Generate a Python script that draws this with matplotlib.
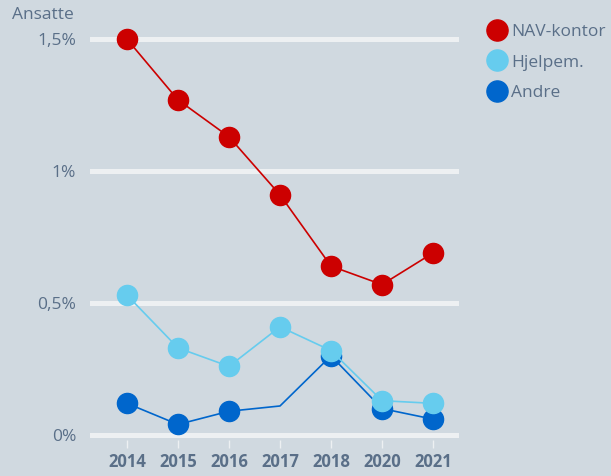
import matplotlib
matplotlib.use("Agg")
import matplotlib.pyplot as plt

# data
years = ["2014", "2015", "2016", "2017", "2018", "2020", "2021"]
nav_kontor = [1.50, 1.27, 1.13, 0.91, 0.64, 0.57, 0.69]
hjelpem = [0.53, 0.33, 0.26, 0.41, 0.32, 0.13, 0.12]
andre = [0.12, 0.04, 0.09, 0.11, 0.30, 0.10, 0.06]
andre_marker_idx = [0, 1, 2, 4, 5, 6]  # no dot for 2017

yticks = [0, 0.5, 1.0, 1.5]
ytick_labels = ["0%", "0,5%", "1%", "1,5%"]

bg = "#d0d9e0"
txt = "#5a6f88"
plt.rcParams["font.family"] = ["Open Sans", "DejaVu Sans"]

fig = plt.figure(figsize=(6.11, 4.76), dpi=100, facecolor=bg)
ax = fig.add_axes([0.1473, 0.0756, 0.604, 0.882])
ax.set_facecolor(bg)

x = list(range(len(years)))
l3, = ax.plot(x, andre, color="#0066cc", lw=1.2, marker="o", ms=14.5,
              markevery=andre_marker_idx, clip_on=False, zorder=3, label="Andre")
l2, = ax.plot(x, hjelpem, color="#66ccee", lw=1.2, marker="o", ms=14.5,
              clip_on=False, zorder=4, label="Hjelpem.")
l1, = ax.plot(x, nav_kontor, color="#cc0000", lw=1.2, marker="o", ms=14.5,
              clip_on=False, zorder=5, label="NAV-kontor")

for yv in yticks:
    ax.axhline(yv, color="#edf0f2", lw=3.6, zorder=1)

ax.set_xlim(-0.725, 6.51)
ax.set_ylim(-0.019, 1.572)
ax.set_yticks(yticks)
ax.set_yticklabels(ytick_labels)
ax.set_xticks(x)
ax.set_xticklabels(years, fontweight="bold")
ax.tick_params(axis="y", length=0, pad=10, labelsize=12.5, labelcolor=txt)
ax.tick_params(axis="x", length=6, width=1, color="#edf0f2", pad=3,
               labelsize=12, labelcolor=txt)
for s in ax.spines.values():
    s.set_visible(False)

fig.text(12 / 611, 1 - 15 / 476, "Ansatte", fontsize=12.5, color=txt,
         ha="left", va="center")

fig.legend(handles=[l1, l2, l3], loc="upper left",
           bbox_to_anchor=(492 / 611, 1 - 24 / 476), frameon=False,
           handlelength=0.6, handletextpad=0.5, labelspacing=0.82,
           fontsize=12.5, labelcolor=txt, markerscale=1.05,
           borderaxespad=0, borderpad=0)

fig.savefig("out.png", dpi=100, facecolor=bg)
